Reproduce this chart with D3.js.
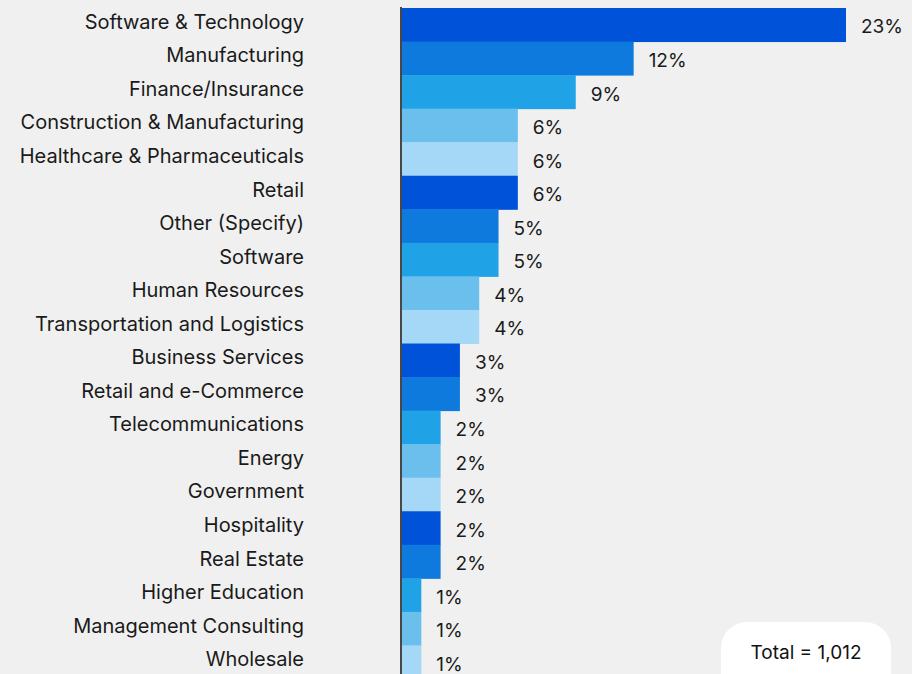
<!DOCTYPE html>
<html>
<head>
<meta charset="utf-8">
<script src="https://cdn.jsdelivr.net/npm/d3@7"></script>
<style>
  html, body { margin: 0; padding: 0; background: #f0f0f0; }
  svg { display: block; font-family: Inter, "Noto Sans", sans-serif; }
</style>
</head>
<body>
<div class="svgGraphique"></div>
<script>
// Données
const categories = [
  "Software & Technology", "Manufacturing", "Finance/Insurance",
  "Construction & Manufacturing", "Healthcare & Pharmaceuticals", "Retail",
  "Other (Specify)", "Software", "Human Resources",
  "Transportation and Logistics", "Business Services", "Retail and e-Commerce",
  "Telecommunications", "Energy", "Government", "Hospitality", "Real Estate",
  "Higher Education", "Management Consulting", "Wholesale"
];
const values = [23, 12, 9, 6, 6, 6, 5, 5, 4, 4, 3, 3, 2, 2, 2, 2, 2, 1, 1, 1];
const palette = ["#0052d9", "#0f7ade", "#20a3e6", "#6bbfed", "#a5d8f6"];
const totalLabel = "Total = 1,012";

const width = 912;
const height = 674;

const data = categories.map((c, i) => ({ cat: c, value: values[i] }));

const svg = d3.create('svg')
    .attr('width', width)
    .attr('height', height)
    .style('background-color', '#f0f0f0');

const x = d3.scaleLinear()
    .domain([0, 23])
    .range([402, 846]);

const y = d3.scaleBand()
    .domain(categories)
    .range([8, 8 + 33.55 * categories.length])
    .padding(0);

// barres
svg.append('g')
  .selectAll('rect')
  .data(data)
  .join('rect')
    .attr('x', x(0))
    .attr('y', d => y(d.cat))
    .attr('width', d => x(d.value) - x(0))
    .attr('height', y.bandwidth() + 0.5)
    .attr('fill', (d, i) => palette[i % palette.length]);

// étiquettes de catégories
svg.append('g')
  .selectAll('text')
  .data(data)
  .join('text')
    .attr('x', 304)
    .attr('y', d => y(d.cat) + y.bandwidth() / 2 - 3)
    .attr('dy', '0.35em')
    .attr('text-anchor', 'end')
    .attr('font-size', 20)
    .attr('fill', '#1a1a1a')
    .text(d => d.cat);

// valeurs
svg.append('g')
  .selectAll('text')
  .data(data)
  .join('text')
    .attr('x', d => x(d.value) + 15)
    .attr('y', d => y(d.cat) + y.bandwidth() / 2 + 2)
    .attr('dy', '0.35em')
    .attr('font-size', 19)
    .attr('fill', '#1a1a1a')
    .text(d => d.value + '%');

// axe vertical
svg.append('line')
    .attr('x1', 401).attr('x2', 401)
    .attr('y1', 7).attr('y2', height)
    .attr('stroke', '#111')
    .attr('stroke-width', 1.5);

// encart total
const box = svg.append('g');
box.append('rect')
    .attr('x', 721).attr('y', 622)
    .attr('width', 170).attr('height', 80)
    .attr('rx', 26)
    .attr('fill', '#ffffff');
box.append('text')
    .attr('x', 806).attr('y', 652)
    .attr('dy', '0.35em')
    .attr('text-anchor', 'middle')
    .attr('font-size', 19)
    .attr('fill', '#111')
    .text(totalLabel);

document.querySelector('.svgGraphique').appendChild(svg.node());
</script>
</body>
</html>
